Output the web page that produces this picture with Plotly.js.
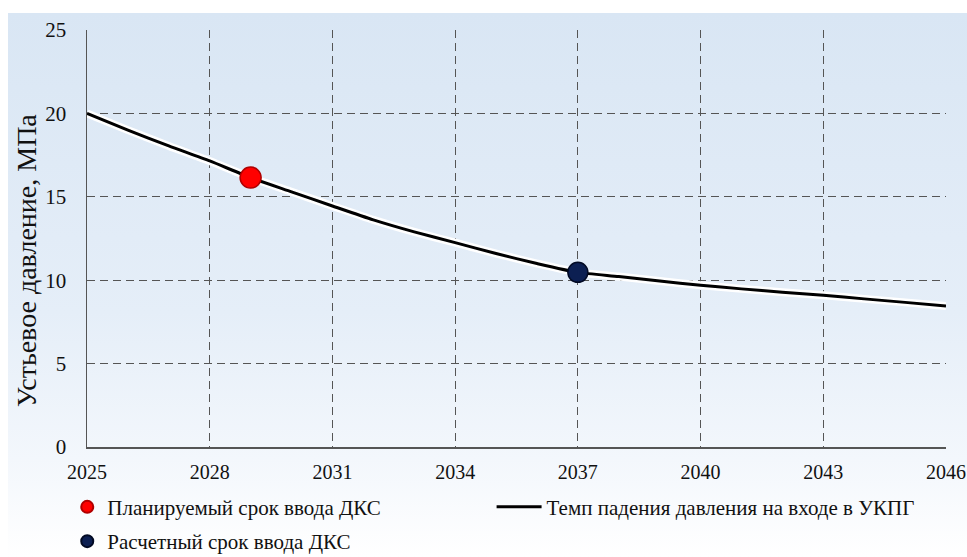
<!DOCTYPE html>
<html>
<head>
<meta charset="utf-8">
<script src="https://cdn.plot.ly/plotly-3.0.1.min.js"></script>
<style>html,body{margin:0;padding:0;background:#fff;}#chart{width:967px;height:557px;}</style>
</head>
<body>
<div id="chart"></div>
<script>
const years = [2025,2026,2027,2028,2029,2030,2031,2032,2033,2034,2035,2036,2037,2038,2039,2040,2041,2042,2043,2044,2045,2046];
const pressure = [20.0,19.0,18.05,17.15,16.15,15.3,14.45,13.62,12.9,12.25,11.6,11.0,10.47,10.22,9.95,9.7,9.48,9.28,9.1,8.88,8.67,8.45];
const plannedYear = [2029];
const plannedValue = [16.15];
const calcYear = [2037];
const calcValue = [10.47];
const xTicks = [2025,2028,2031,2034,2037,2040,2043,2046];
const yTicks = [0,5,10,15,20,25];

const names = {
  planned: 'Планируемый срок ввода ДКС',
  calc: 'Расчетный срок ввода ДКС',
  line: 'Темп падения давления на входе в УКПГ',
  yTitle: 'Устьевое давление, МПа'
};

const serif = 'Liberation Serif';

const bgSvg = '<svg xmlns="http://www.w3.org/2000/svg" width="100" height="100" preserveAspectRatio="none">' +
  '<defs><linearGradient id="g" x1="0" y1="0" x2="0" y2="1">' +
  '<stop offset="0" stop-color="#d9e6f4"/>' +
  '<stop offset="0.55" stop-color="#e5eef8"/>' +
  '<stop offset="0.82" stop-color="#f3f7fc"/>' +
  '<stop offset="1" stop-color="#ffffff"/>' +
  '</linearGradient></defs><rect width="100" height="100" fill="url(#g)"/></svg>';
const bgUri = 'data:image/svg+xml;base64,' + btoa(bgSvg);

const traces = [
  {x: years, y: pressure, mode: 'lines', line: {color: '#ffffff', width: 8, shape: 'spline', smoothing: 0.6},
   showlegend: false, hoverinfo: 'skip'},
  {x: years, y: pressure, mode: 'lines', name: names.line, line: {color: '#000000', width: 3, shape: 'spline', smoothing: 0.6},
   legend: 'legend2'},
  {x: plannedYear, y: plannedValue, mode: 'markers', name: names.planned, legendgroup: 'a',
   marker: {color: '#ff0000', size: 21, line: {color: '#b00000', width: 1.5}}},
  {x: calcYear, y: calcValue, mode: 'markers', name: names.calc, legendgroup: 'b',
   marker: {color: '#0c1f52', size: 20, line: {color: '#020a24', width: 1.5}}}
];

const layout = {
  width: 967, height: 557,
  margin: {l: 87, r: 21, t: 30, b: 110, autoexpand: false},
  paper_bgcolor: '#ffffff',
  plot_bgcolor: 'rgba(0,0,0,0)',
  font: {family: serif, size: 20, color: '#111111'},
  images: [{source: bgUri, xref: 'paper', yref: 'paper', x: -0.092, y: 1.0408,
            sizex: 1.117, sizey: 1.3046, sizing: 'stretch', xanchor: 'left', yanchor: 'top', layer: 'below'}],
  xaxis: {range: [2025, 2046], tickvals: xTicks, ticktext: xTicks.map(String), showgrid: true,
          gridcolor: '#555555', griddash: '8px,5px', gridwidth: 1.2, zeroline: false,
          showline: true, linecolor: '#555555', linewidth: 1.5, ticks: '', ticklabelstandoff: 6,
          ticklabeloverflow: 'allow',
          tickfont: {family: serif, size: 20, color: '#111'}, fixedrange: true, automargin: false},
  yaxis: {range: [0, 25], tickvals: yTicks, showgrid: true,
          gridcolor: '#555555', griddash: '8px,5px', gridwidth: 1.2, zeroline: false,
          showline: true, linecolor: '#555555', linewidth: 1.5, ticks: '', ticklabelstandoff: 15,
          tickfont: {family: serif, size: 21, color: '#111'}, automargin: false, fixedrange: true},
  annotations: [{text: names.yTitle, xref: 'paper', yref: 'paper', x: -0.0708, y: 0.4484,
                 xanchor: 'center', yanchor: 'middle', textangle: -90, showarrow: false,
                 font: {family: serif, size: 28, color: '#111'}}],
  showlegend: true,
  legend: {x: -0.023, y: -0.0952, xanchor: 'left', yanchor: 'top', orientation: 'v',
           bgcolor: 'rgba(0,0,0,0)', font: {family: serif, size: 21, color: '#111'},
           itemsizing: 'constant', tracegroupgap: 4, traceorder: 'grouped'},
  legend2: {x: 0.471, y: -0.0952, xanchor: 'left', yanchor: 'top', orientation: 'v',
            bgcolor: 'rgba(0,0,0,0)', font: {family: serif, size: 21, color: '#111'}, itemwidth: 45}
};

Plotly.newPlot('chart', traces, layout, {displayModeBar: false, staticPlot: true});
</script>
</body>
</html>
